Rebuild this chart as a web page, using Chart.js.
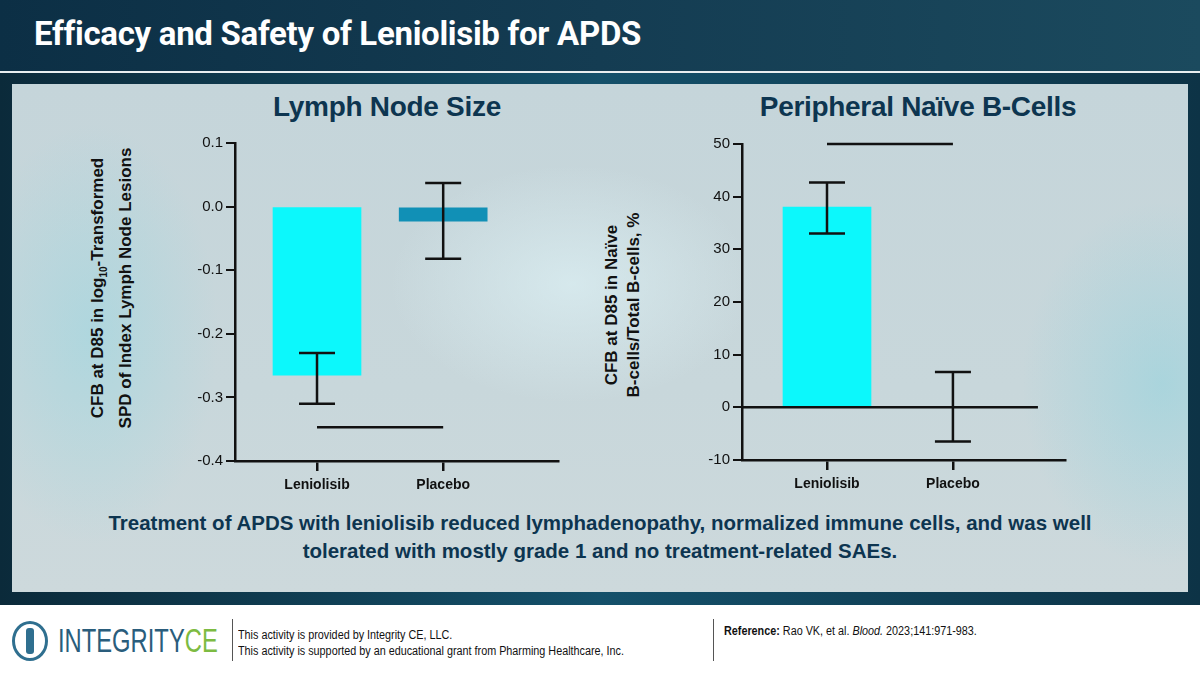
<!DOCTYPE html>
<html>
<head>
<meta charset="utf-8">
<script src="https://cdn.jsdelivr.net/npm/chart.js@4.4.0/dist/chart.umd.min.js"></script>
<style>
  body { margin:0; width:1200px; height:675px; overflow:hidden; font-family:"Liberation Sans", Arial, sans-serif; background:#fff; position:relative; }
  #header { position:absolute; left:0; top:0; width:1200px; height:71px; background:linear-gradient(90deg,#0c2f45 0%,#143c52 50%,#1b4a5e 100%); border-bottom:2px solid #e8eef0; }
  #header h1 { margin:0; position:absolute; left:34px; top:14px; color:#fff; font-size:33px; font-weight:bold; font-family:"Roboto","Liberation Sans",sans-serif; letter-spacing:-0.3px; }
  #frame { position:absolute; left:0; top:73px; width:1200px; height:532px; background:linear-gradient(90deg,#0b2a3a,#14506a 50%,#0d3346); }
  #panel { position:absolute; left:12px; top:84px; width:1176px; height:508px;
    background:
      radial-gradient(ellipse 260px 170px at 560px 200px, rgba(220,240,244,0.7), rgba(200,220,226,0) 70%),
      radial-gradient(ellipse 180px 300px at 80px 250px, rgba(150,215,225,0.5), rgba(180,210,218,0) 70%),
      radial-gradient(ellipse 200px 260px at 1150px 300px, rgba(140,210,222,0.5), rgba(180,210,218,0) 70%),
      linear-gradient(180deg,#c5d5da 0%,#c8d7db 60%,#cdd9dc 100%); }
  .ctitle { position:absolute; font-family:"Liberation Sans",sans-serif; font-weight:bold; font-size:28px; color:#0d3550; white-space:nowrap; transform:translateX(-50%); letter-spacing:-0.3px; }
  .ytitle { position:absolute; font-weight:bold; font-size:17px; color:#111; line-height:22px; text-align:center; white-space:nowrap; transform:translate(-50%,-50%) rotate(-90deg); }
  .ytitle sub { font-size:10px; }
  #summary { position:absolute; left:0; width:1200px; top:509px; text-align:center; font-family:"Liberation Sans",sans-serif; font-weight:bold; font-size:20.5px; line-height:28px; color:#0d3550; }
  canvas { position:absolute; }
  #footer { position:absolute; left:0; top:605px; width:1200px; height:70px; background:#fff; font-family:"Liberation Sans",sans-serif; font-size:12px; color:#111; }
  .vline { position:absolute; top:14px; width:1px; height:42px; background:#555; }
</style>
</head>
<body>
<div id="header"><h1>Efficacy and Safety of Leniolisib for APDS</h1></div>
<div id="frame"></div>
<div id="panel"></div>

<div class="ctitle" style="left:387px;top:91px;">Lymph Node Size</div>
<div class="ctitle" style="left:918px;top:91px;">Peripheral Naïve B-Cells</div>

<div class="ytitle" style="left:112px;top:288px;">CFB at D85 in log<sub>10</sub>-Transformed<br>SPD of Index Lymph Node Lesions</div>
<div class="ytitle" style="left:623px;top:305px;">CFB at D85 in Naïve<br>B-cells/Total B-cells, %</div>

<canvas id="chartLymph"></canvas>
<canvas id="chartBcell"></canvas>

<div id="summary">Treatment of APDS with leniolisib reduced lymphadenopathy, normalized immune cells, and was well<br>tolerated with mostly grade 1 and no treatment-related SAEs.</div>

<div id="footer">
  <div style="position:absolute;left:12px;top:16px;width:36px;height:40px;border:3px solid #2f6f8f;border-radius:50%;box-sizing:border-box;"></div>
  <div style="position:absolute;left:26px;top:23px;width:8px;height:26px;background:#2f6f8f;border-radius:3px;"></div>
  <div style="position:absolute;left:58px;top:17px;font-size:33px;color:#2a5d7c;transform:scaleX(0.72);transform-origin:left top;white-space:nowrap;">INTEGRITY<span style="color:#7dbb42;">CE</span></div>
  <div class="vline" style="left:232px;"></div>
  <div style="position:absolute;left:238px;top:22px;line-height:16px;transform:scaleX(0.9);transform-origin:left top;white-space:nowrap;">This activity is provided by Integrity CE, LLC.<br>This activity is supported by an educational grant from Pharming Healthcare, Inc.</div>
  <div class="vline" style="left:713px;"></div>
  <div style="position:absolute;left:724px;top:19px;transform:scaleX(0.9);transform-origin:left top;white-space:nowrap;"><b>Reference:</b> Rao VK, et al. <i>Blood.</i> 2023;141:971-983.</div>
</div>

<script>
// categories and values
const categories = ['Leniolisib', 'Placebo'];

// Lymph node size (log10 SPD change)
const lymphBarLow = [0, -0.002];
const lymphBarHigh = [-0.265, -0.023];
const lymphErrLow = [-0.31, -0.082];
const lymphErrHigh = [-0.23, 0.037];
const lymphSigY = -0.347;
const lymphTicks = [0.1, 0.0, -0.1, -0.2, -0.3, -0.4];

// Peripheral naive B-cells (%)
const bcellBarLow = [0, 0];
const bcellBarHigh = [38, 0];
const bcellErrLow = [33, -6.5];
const bcellErrHigh = [42.7, 6.7];
const bcellSigY = 50;
const bcellTicks = [50, 40, 30, 20, 10, 0, -10];

const barColors = ['#0cf8fc', '#1190b6'];

// draws error bars from the arrays via the scales
function errorBarPlugin(lows, highs) {
    return {
        id: 'errorBars',
        afterDatasetsDraw(chart) {
            const ctx = chart.ctx;
            const xs = chart.scales.x, ys = chart.scales.y;
            ctx.save();
            ctx.strokeStyle = '#111';
            ctx.lineWidth = 2.5;
            for (let i = 0; i < lows.length; i++) {
                const px = xs.getPixelForValue(i);
                const y1 = ys.getPixelForValue(lows[i]);
                const y2 = ys.getPixelForValue(highs[i]);
                ctx.beginPath();
                ctx.moveTo(px, y1); ctx.lineTo(px, y2);
                ctx.moveTo(px - 18, y1); ctx.lineTo(px + 18, y1);
                ctx.moveTo(px - 18, y2); ctx.lineTo(px + 18, y2);
                ctx.stroke();
            }
            ctx.restore();
        }
    };
}

function lineSet(points) {
    return { type: 'line', data: points, borderColor: '#111', borderWidth: 2.5, pointRadius: 0, clip: false, order: -1 };
}

function makeChart(id, pos, barLow, barHigh, errLow, errHigh, sigY, ticks, xMin, xMax, extraLines, fmt) {
    const el = document.getElementById(id);
    el.style.left = pos.left + 'px';
    el.style.top = pos.top + 'px';
    el.style.width = pos.w + 'px';
    el.style.height = pos.h + 'px';
    el.width = pos.w; el.height = pos.h;

    const datasets = [{
        type: 'bar',
        data: categories.map((c, i) => ({ x: i, y: [barLow[i], barHigh[i]] })),
        backgroundColor: barColors,
        barThickness: 88,
        borderSkipped: false,
        order: 1
    }, lineSet([{ x: 0, y: sigY }, { x: 1, y: sigY }])].concat(extraLines);

    return new Chart(el, {
        data: { datasets },
        options: {
            responsive: false,
            animation: false,
            layout: { padding: { top: pos.padTop, right: pos.padRight } },
            plugins: { legend: { display: false }, tooltip: { enabled: false } },
            scales: {
                x: {
                    type: 'linear', min: xMin, max: xMax, offset: false,
                    afterBuildTicks: s => { s.ticks = [{ value: 0 }, { value: 1 }]; },
                    afterFit: s => { s.height = pos.xh; },
                    ticks: { callback: v => categories[v], color: '#111', font: { family: 'Liberation Sans', size: 14, weight: 'bold' }, padding: 6 },
                    grid: { offset: false, drawOnChartArea: false, drawTicks: true, tickLength: 10, color: '#111', lineWidth: 2.5 },
                    border: { display: true, color: '#111', width: 2.5 }
                },
                y: {
                    min: ticks[ticks.length - 1], max: ticks[0],
                    afterBuildTicks: s => { s.ticks = ticks.map(v => ({ value: v })); },
                    afterFit: s => { s.width = pos.yw; },
                    ticks: { callback: fmt, color: '#111', font: { family: 'Liberation Sans', size: 15 }, padding: 3 },
                    grid: { drawOnChartArea: false, drawTicks: true, tickLength: 9, color: '#111', lineWidth: 2 },
                    border: { display: true, color: '#111', width: 2.5 }
                }
            }
        },
        plugins: [errorBarPlugin(errLow, errHigh)]
    });
}

makeChart('chartLymph', { left: 180, top: 130, w: 400, h: 370, padTop: 13, padRight: 22, xh: 39, yw: 55 },
    lymphBarLow, lymphBarHigh, lymphErrLow, lymphErrHigh, lymphSigY, lymphTicks, -0.65, 1.91, [],
    v => v.toFixed(1));

makeChart('chartBcell', { left: 690, top: 130, w: 395, h: 370, padTop: 14, padRight: 20, xh: 40, yw: 52 },
    bcellBarLow, bcellBarHigh, bcellErrLow, bcellErrHigh, bcellSigY, bcellTicks, -0.675, 1.89,
    [lineSet([{ x: -0.675, y: 0 }, { x: 1.675, y: 0 }])],
    v => String(v));
</script>
</body>
</html>
